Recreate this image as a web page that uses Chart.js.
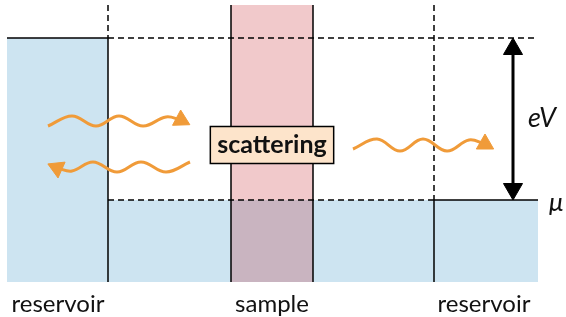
<!DOCTYPE html>
<html>
<head>
<meta charset="utf-8">
<script src="https://cdn.jsdelivr.net/npm/chart.js@4"></script>
<style>
  html, body { margin: 0; padding: 0; background: #fff; }
  #wrap { width: 566px; height: 317px; }
</style>
</head>
<body>
<div id="wrap"><canvas id="myCanvas"></canvas></div>
<script>
'use strict';

// diagram values (picture units, x to the right, y downwards)

const columnEdges = [7, 108, 231, 313, 434, 538];
const topLevel = 5;
const biasLevel = 38; // mu + eV
const muLevel = 200;
const bottomLevel = 282;
const biasArrowX = 513;

const regionNames = ['reservoir', 'sample', 'reservoir'];
const regionCenters = [58, 272, 484];

// wavy electrons: crests and troughs, last point = arrow head
const waveIn = [[48, 126], [72, 116], [96, 126], [119, 116], [143, 126], [166, 117], [181, 120]];
const waveBack = [[190, 162], [166, 172], [141, 162], [117, 172], [93, 162], [72, 171], [57, 168]];
const waveOut = [[353, 149], [377, 139], [400, 151], [423, 139], [447, 151], [469, 140], [485, 144]];
const waveHeadTurn = [118, 294, 120];

const scatterLabel = 'scattering';
const scatterAt = [272, 145];
const biasLabel = 'eV';
const muLabel = 'μ';

// colours
const blue = '#cde4f1';
const pink = '#f1c9cb';
const purple = '#c9b4c0';
const orange = '#f09b39';

function pts(list) {
  return list.map(p => ({ x: p[0], y: p[1] }));
}

function seg(list, opts) {
  return Object.assign({
    data: pts(list),
    borderColor: '#000',
    borderWidth: 1.5,
    pointRadius: 0,
    fill: false,
    tension: 0
  }, opts);
}

function wave(list, turn) {
  const last = list.length - 1;
  return seg(list, {
    borderColor: orange,
    borderWidth: 3,
    tension: 0.4,
    pointStyle: 'triangle',
    pointRadius: list.map((p, i) => i === last ? 10 : 0),
    pointRotation: list.map((p, i) => i === last ? turn : 0),
    pointBackgroundColor: orange,
    pointBorderColor: orange,
    pointBorderWidth: 1
  });
}

const [e0, e1, e2, e3, e4, e5] = columnEdges;
const dash = [6, 4];

// painting order: first = bottom
let layers = [
  seg([[e0, biasLevel], [e1, biasLevel]], { fill: { value: bottomLevel }, backgroundColor: blue }),
  seg([[e1, muLevel], [e5, muLevel]], { fill: { value: bottomLevel }, backgroundColor: blue, borderWidth: 0 }),
  seg([[e2, topLevel], [e3, topLevel]], { fill: { value: muLevel }, backgroundColor: pink, borderWidth: 0 }),
  seg([[e2, muLevel], [e3, muLevel]], { fill: { value: bottomLevel }, backgroundColor: purple, borderWidth: 0 }),
  seg([[e1, biasLevel], [e5, biasLevel]], { borderDash: dash }),
  seg([[e1, muLevel], [e4, muLevel]], { borderDash: dash }),
  seg([[e4, muLevel], [e5, muLevel]], {}),
  seg([[e1, topLevel], [e1, biasLevel]], { borderDash: dash }),
  seg([[e1, biasLevel], [e1, bottomLevel]], {}),
  seg([[e2, topLevel], [e2, bottomLevel]], {}),
  seg([[e3, topLevel], [e3, bottomLevel]], {}),
  seg([[e4, topLevel], [e4, muLevel]], { borderDash: dash }),
  seg([[e4, muLevel], [e4, bottomLevel]], {}),
  wave(waveIn, waveHeadTurn[0]),
  wave(waveBack, waveHeadTurn[1]),
  wave(waveOut, waveHeadTurn[2]),
  seg([[biasArrowX, biasLevel + 11], [biasArrowX, muLevel - 11]], {
    borderWidth: 3,
    pointStyle: 'triangle',
    pointRadius: 11,
    pointRotation: [0, 180],
    pointBackgroundColor: '#000',
    pointBorderColor: '#000',
    pointBorderWidth: 1
  })
];
layers.forEach((ds, i) => { ds.order = layers.length - i; });

const overlay = {
  id: 'overlay',
  afterDatasetsDraw(chart) {
    const ctx = chart.ctx;
    const x = chart.scales.x;
    const y = chart.scales.y;
    ctx.save();

    // scattering box
    const cx = x.getPixelForValue(scatterAt[0]);
    const cy = y.getPixelForValue(scatterAt[1]);
    ctx.font = 'bold 25px Lato';
    const w = ctx.measureText(scatterLabel).width + 14;
    ctx.fillStyle = '#fde4cb';
    ctx.fillRect(cx - w / 2, cy - 18.5, w, 37);
    ctx.strokeStyle = '#000';
    ctx.lineWidth = 1.5;
    ctx.strokeRect(cx - w / 2, cy - 18.5, w, 37);
    ctx.fillStyle = '#111';
    ctx.textAlign = 'center';
    ctx.textBaseline = 'alphabetic';
    ctx.fillText(scatterLabel, cx, cy + 8);

    // region names
    ctx.font = '24px Lato';
    regionNames.forEach((name, i) => {
      ctx.fillText(name, x.getPixelForValue(regionCenters[i]), 312);
    });

    // energy labels
    ctx.textAlign = 'left';
    ctx.font = 'italic 27px Lato';
    ctx.fillText(biasLabel, x.getPixelForValue(biasArrowX) + 15, y.getPixelForValue((biasLevel + muLevel) / 2) + 8);
    ctx.font = 'italic 26px Lato';
    ctx.fillText(muLabel, x.getPixelForValue(e5) + 11, y.getPixelForValue(muLevel) + 11);
    ctx.restore();
  }
};

const config = {
  type: 'line',
  data: { datasets: layers },
  options: {
    responsive: true,
    maintainAspectRatio: false,
    animation: false,
    layout: { padding: 0, autoPadding: false },
    plugins: { legend: { display: false }, tooltip: { enabled: false } },
    scales: {
      x: { type: 'linear', min: 0, max: 566, display: false },
      y: { type: 'linear', min: 0, max: 317, reverse: true, display: false }
    }
  },
  plugins: [overlay]
};

const myChart = new Chart(document.getElementById('myCanvas'), config);
</script>
</body>
</html>
